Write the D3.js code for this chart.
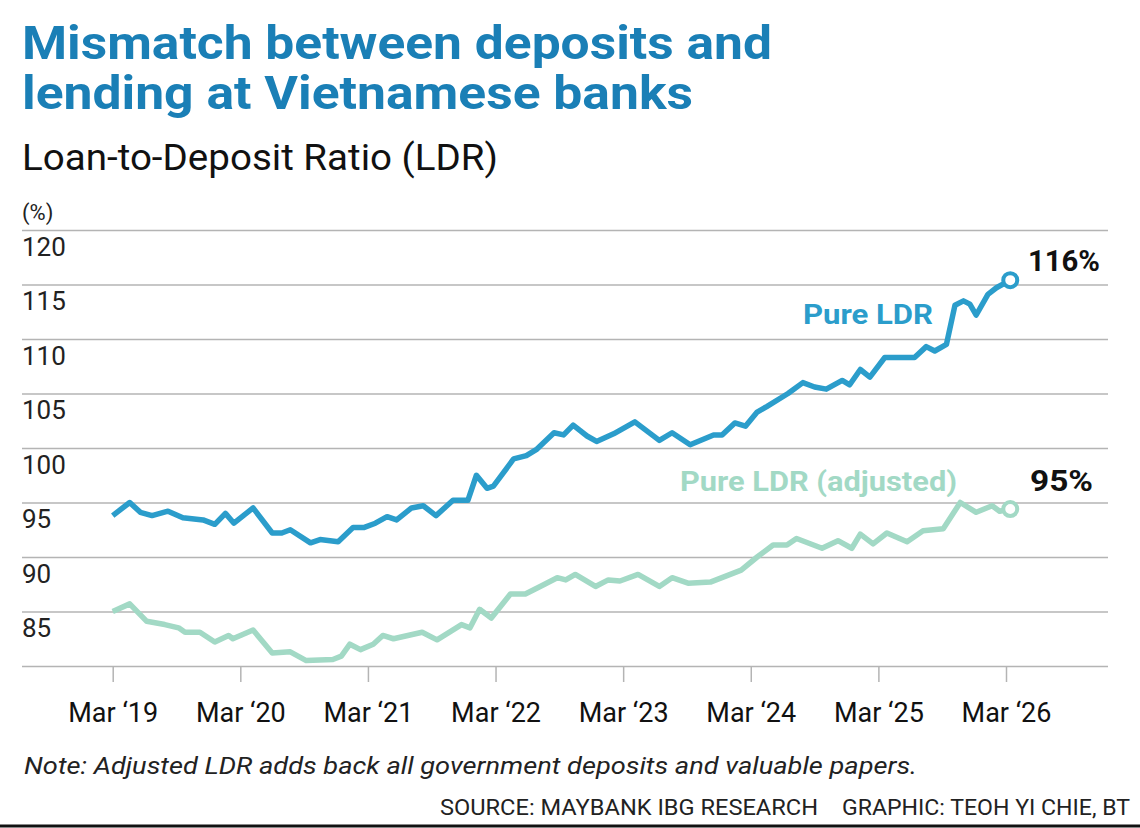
<!DOCTYPE html>
<html>
<head>
<meta charset="utf-8">
<script src="https://cdn.jsdelivr.net/npm/d3@7"></script>
<style>
  html, body { margin: 0; padding: 0; background: #fff; }
  svg { display: block; font-family: Roboto, 'Noto Sans', sans-serif; }
</style>
</head>
<body>
<svg id="chart" width="1140" height="828"></svg>
<script>
// months after March 2019
const pureMonths = [0, 1.6, 2.6, 3.7, 5.2, 6.6, 8.5, 9.6, 10.6, 11.4, 13.2, 15, 15.9, 16.7, 18.6,
  19.5, 21.2, 22.6, 23.6, 24.7, 25.8, 26.7, 28.1, 29.2, 30.4, 32, 33.4, 34.2, 35.2, 35.8,
  37.7, 38.9, 39.9, 41.5, 42.4, 43.3, 44.6, 45.5, 47.1, 49.1, 51.4, 52.6, 54.3, 56.5, 57.3,
  58.5, 59.5, 60.6, 61.5, 63.5, 64.9, 66, 67.1, 68.6, 69.3, 70.3, 71.2, 72.6, 75.4, 76.5,
  77.3, 78.4, 79.2, 80, 80.6, 81.2, 82.3, 83.1, 84.4];
const pureValues = [93.8, 95.0, 94.1, 93.8, 94.2, 93.6, 93.4, 93.0, 94.0, 93.1, 94.5, 92.2, 92.2, 92.5, 91.3,
  91.6, 91.4, 92.7, 92.7, 93.1, 93.7, 93.4, 94.5, 94.7, 93.8, 95.2, 95.2, 97.5, 96.3, 96.5,
  99.0, 99.3, 99.9, 101.4, 101.2, 102.1, 101.1, 100.6, 101.3, 102.4, 100.7, 101.4, 100.3, 101.2, 101.2,
  102.3, 102.0, 103.3, 103.8, 105.0, 106.0, 105.6, 105.4, 106.2, 105.8, 107.2, 106.5, 108.3, 108.3, 109.3,
  108.9, 109.5, 113.1, 113.5, 113.2, 112.2, 114.1, 114.7, 115.4];

const adjMonths = [0, 1.6, 3.2, 4.9, 6.2, 6.8, 8.2, 9.6, 10.9, 11.3, 13.2, 15, 16.7, 18.2, 20.7,
  21.5, 22.3, 23.3, 24.5, 25.4, 26.4, 29.1, 30.5, 32.8, 33.6, 34.5, 35.6, 37.4, 38.8, 40.2,
  41.8, 42.6, 43.5, 45.4, 46.6, 47.7, 49.4, 51.4, 52.6, 54.1, 56.2, 59.1, 60.6, 62.1, 63.4,
  64.3, 66.7, 68.2, 69.5, 70.3, 71.5, 72.8, 74.7, 76.2, 78.1, 79.7, 81.2, 82.7, 83.4, 84.4];
const adjValues = [85.0, 85.7, 84.1, 83.8, 83.5, 83.1, 83.1, 82.2, 82.8, 82.5, 83.3, 81.2, 81.3, 80.5, 80.6,
  80.9, 82.0, 81.5, 82.0, 82.8, 82.5, 83.1, 82.4, 83.8, 83.5, 85.2, 84.4, 86.6, 86.6, 87.3,
  88.1, 87.9, 88.4, 87.3, 87.9, 87.8, 88.4, 87.3, 88.1, 87.6, 87.7, 88.8, 90.0, 91.1, 91.1,
  91.7, 90.8, 91.5, 90.8, 92.1, 91.2, 92.2, 91.4, 92.4, 92.6, 95.0, 94.1, 94.7, 94.2, 94.4];

const xTickMonths = [0, 12, 24, 36, 48, 60, 72, 84];
const xTickLabels = ['Mar \u201819', 'Mar \u201820', 'Mar \u201821', 'Mar \u201822',
  'Mar \u201823', 'Mar \u201824', 'Mar \u201825', 'Mar \u201826'];
const yTicks = [80, 85, 90, 95, 100, 105, 110, 115, 120];
const endLabels = ['116%', '95%'];

const blue = '#2b9dcb';
const mint = '#a2d9c5';
const titleBlue = '#1a7fb6';
const gridGrey = '#b4b4b4';

const svg = d3.select('#chart');
const left = 22, right = 1108;

const xScale = d3.scaleLinear().domain([0, 84]).range([112.7, 1006]);
const yScale = d3.scaleLinear().domain([80, 120]).range([666, 230]);

// fit a text to the width it has in the reference
const fit = (sel, w) => sel.attr('textLength', w).attr('lengthAdjust', 'spacingAndGlyphs');

// Titles
svg.append('text').attr('x', left).attr('y', 59)
  .attr('font-size', 46).attr('font-weight', 700).attr('fill', titleBlue)
  .text('Mismatch between deposits and').call(fit, 750);
svg.append('text').attr('x', left).attr('y', 109)
  .attr('font-size', 46).attr('font-weight', 700).attr('fill', titleBlue)
  .text('lending at Vietnamese banks').call(fit, 671);
svg.append('text').attr('x', left).attr('y', 170)
  .attr('font-size', 36).attr('fill', '#111')
  .text('Loan-to-Deposit Ratio (LDR)').call(fit, 476);
svg.append('text').attr('x', left).attr('y', 220)
  .attr('font-size', 22).attr('fill', '#222')
  .text('(%)');

// Y grid lines with labels under each line
const yAxis = d3.axisLeft(yScale)
  .tickValues(yTicks)
  .tickSize(-(right - left))
  .tickFormat((d) => (d === 80 ? '' : d));
const yAxisGroup = svg.append('g')
  .attr('transform', `translate(${left},0)`)
  .call(yAxis);
yAxisGroup.select('.domain').remove();
yAxisGroup.selectAll('line').attr('stroke', gridGrey).attr('stroke-width', 1.5);
yAxisGroup.selectAll('text')
  .attr('x', 0).attr('dy', 25)
  .attr('text-anchor', 'start')
  .attr('fill', '#222')
  .attr('font-size', 26)
  .attr('font-family', 'Roboto, sans-serif');

// X axis ticks and labels
const xAxis = d3.axisBottom(xScale)
  .tickValues(xTickMonths)
  .tickSize(16)
  .tickPadding(21)
  .tickFormat((d, i) => xTickLabels[i]);
const xAxisGroup = svg.append('g')
  .attr('transform', `translate(0,${yScale(80)})`)
  .call(xAxis);
xAxisGroup.select('.domain').remove();
xAxisGroup.selectAll('line').attr('stroke', gridGrey).attr('stroke-width', 1.5);
xAxisGroup.selectAll('text')
  .attr('fill', '#111')
  .attr('font-size', 27)
  .attr('font-family', 'Roboto, sans-serif');

// Lines
const line = d3.line()
  .x((d) => xScale(d[0]))
  .y((d) => yScale(d[1]));

const series = [
  { months: adjMonths, values: adjValues, color: mint },
  { months: pureMonths, values: pureValues, color: blue },
];
series.forEach((s) => {
  const pts = d3.zip(s.months, s.values);
  svg.append('path')
    .attr('d', line(pts))
    .attr('fill', 'none')
    .attr('stroke', s.color)
    .attr('stroke-width', 5.5)
    .attr('stroke-linejoin', 'round');
  const last = pts[pts.length - 1];
  svg.append('circle')
    .attr('cx', xScale(last[0])).attr('cy', yScale(last[1]))
    .attr('r', 7)
    .attr('fill', '#fff')
    .attr('stroke', s.color)
    .attr('stroke-width', 4);
});

// Series labels
svg.append('text').attr('x', 803).attr('y', 324)
  .attr('font-size', 28).attr('font-weight', 700).attr('fill', blue)
  .text('Pure LDR').call(fit, 130);
svg.append('text').attr('x', 680).attr('y', 491)
  .attr('font-size', 28).attr('font-weight', 700).attr('fill', mint)
  .text('Pure LDR (adjusted)').call(fit, 277);

// End values
svg.append('text').attr('x', 1028).attr('y', 271)
  .attr('font-size', 30).attr('font-weight', 700).attr('fill', '#111')
  .text(endLabels[0]).call(fit, 72);
svg.append('text').attr('x', 1030).attr('y', 491)
  .attr('font-size', 30).attr('font-weight', 700).attr('fill', '#111')
  .text(endLabels[1]).call(fit, 63);

// Note and credits
svg.append('text').attr('x', 24).attr('y', 774)
  .attr('font-size', 24).attr('font-style', 'italic').attr('fill', '#222')
  .text('Note: Adjusted LDR adds back all government deposits and valuable papers.')
  .call(fit, 893);
svg.append('text').attr('x', 440).attr('y', 815)
  .attr('font-size', 22).attr('fill', '#222')
  .text('SOURCE: MAYBANK IBG RESEARCH').call(fit, 378);
svg.append('text').attr('x', 842).attr('y', 815)
  .attr('font-size', 22).attr('fill', '#222')
  .text('GRAPHIC: TEOH YI CHIE, BT').call(fit, 288);

svg.append('line')
  .attr('x1', 0).attr('x2', 1140).attr('y1', 826).attr('y2', 826)
  .attr('stroke', '#111').attr('stroke-width', 3);
</script>
</body>
</html>
